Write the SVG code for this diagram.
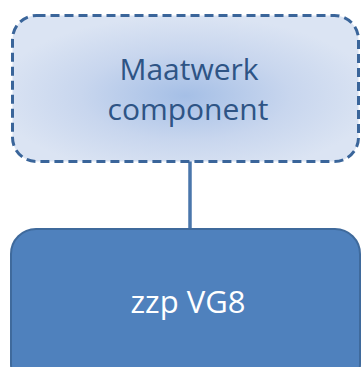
<svg xmlns="http://www.w3.org/2000/svg" width="362" height="367" viewBox="0 0 362 367">
<defs>
<radialGradient id="g1" cx="50%" cy="55%" r="55%">
<stop offset="0" stop-color="#a5bfe6"/>
<stop offset="0.55" stop-color="#c8d6ee"/>
<stop offset="1" stop-color="#dbe4f3"/>
</radialGradient>
</defs>
<style>
.t{font-family:"Open Sans","Liberation Sans",sans-serif;text-anchor:middle}
</style>
<rect width="362" height="367" fill="#ffffff"/>
<g id="connectors">
<line x1="190" y1="161" x2="190" y2="230" stroke="#4a76ab" stroke-width="3.5"/>
</g>
<g id="node-maatwerk">
<rect x="12.5" y="15.5" width="346" height="146" rx="24" ry="24" fill="url(#g1)" stroke="#3a659a" stroke-width="3" stroke-dasharray="9,5"/>
<text class="t" x="189" y="80" font-size="30" fill="#2e5485">Maatwerk</text>
<text class="t" x="188" y="120" font-size="30" fill="#2e5485">component</text>
</g>
<g id="node-zzp">
<rect x="11" y="229" width="349" height="160" rx="25" ry="25" fill="#4f81bd" stroke="#3f6a9c" stroke-width="2"/>
<text class="t" x="188" y="313" font-size="31" fill="#ffffff">zzp VG8</text>
</g>
</svg>
